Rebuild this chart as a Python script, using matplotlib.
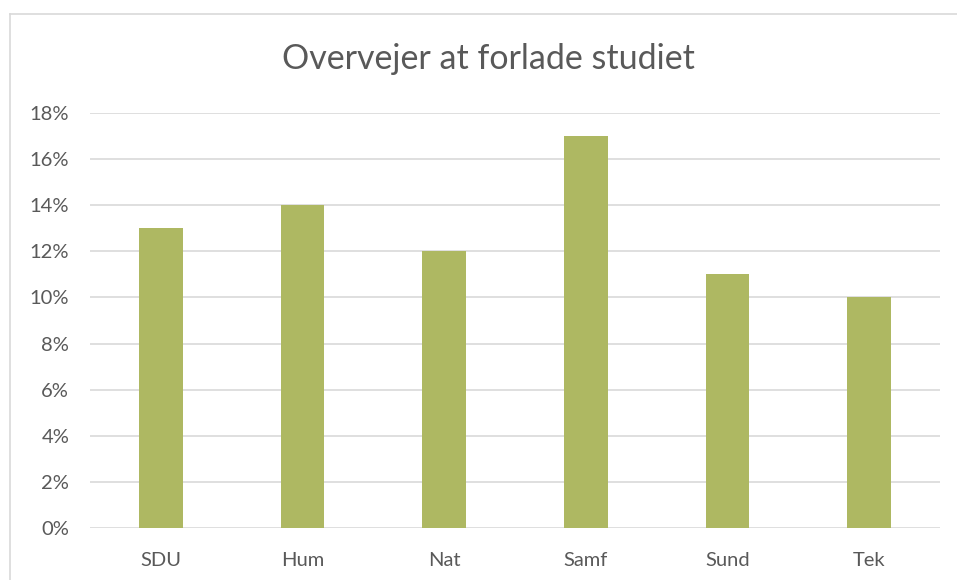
import matplotlib
matplotlib.use("Agg")
import matplotlib.pyplot as plt
from matplotlib.lines import Line2D
from matplotlib.ticker import FuncFormatter

categories = ["SDU", "Hum", "Nat", "Samf", "Sund", "Tek"]
values = [0.13, 0.14, 0.12, 0.17, 0.11, 0.10]
yticks = [0, 0.02, 0.04, 0.06, 0.08, 0.10, 0.12, 0.14, 0.16, 0.18]

W, H = 957, 580
fig = plt.figure(figsize=(W / 100, H / 100), dpi=100)
plt.rcParams['font.family'] = ['Lato', 'DejaVu Sans']

ax = fig.add_axes([90 / W, 1 - 528 / H, 850 / W, (528 - 113) / H])
x = list(range(len(categories)))
ax.bar(x, values, width=0.31, color='#AEB862', zorder=3)
ax.set_xlim(-0.5, len(categories) - 0.5)
ax.set_ylim(0, 0.18)
ax.set_yticks(yticks)
ax.yaxis.set_major_formatter(FuncFormatter(lambda v, p: f"{round(v*100)}%"))
ax.set_xticks(x)
ax.set_xticklabels(categories)
ax.grid(axis='y', color='#D9D9D9', linewidth=1.2, zorder=0)
for s in ax.spines.values():
    s.set_visible(False)
ax.tick_params(axis='both', length=0, labelsize=14.5, labelcolor='#595959')
ax.tick_params(axis='y', pad=15)
ax.tick_params(axis='x', pad=17)

fig.text(488 / W, 1 - 59 / H, "Overvejer at forlade studiet", ha='center', va='center',
         fontsize=24.5, color='#595959')

# chart border
fig.add_artist(Line2D([9.5 / W, 9.5 / W], [0, 1 - 13.5 / H], color='#D9D9D9', linewidth=1.2))
fig.add_artist(Line2D([9.5 / W, 1], [1 - 13.5 / H, 1 - 13.5 / H], color='#D9D9D9', linewidth=1.2))

fig.savefig("out.png", dpi=100)
